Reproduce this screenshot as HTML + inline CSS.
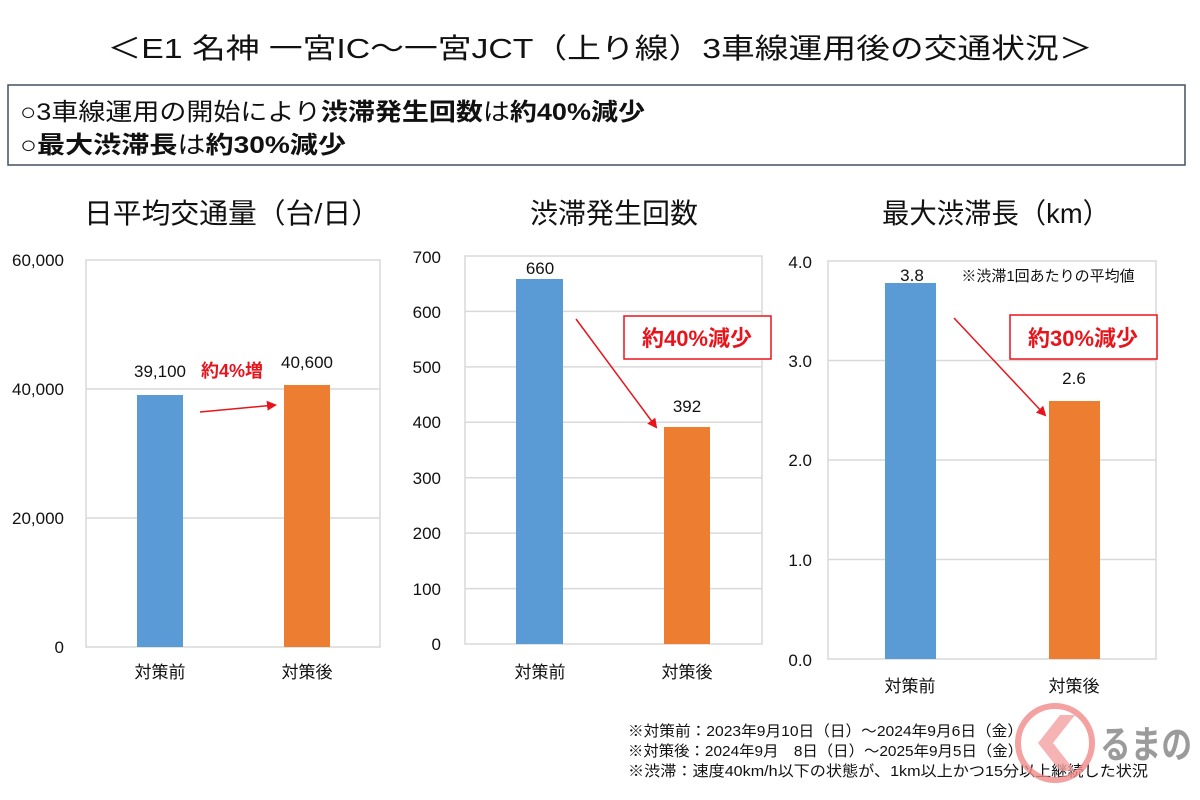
<!DOCTYPE html>
<html><head><meta charset="utf-8"><style>
body{margin:0;background:#fff;}
svg{display:block;font-family:"Liberation Sans","Noto Sans CJK JP",sans-serif;}
</style></head><body>
<svg width="1200" height="800" viewBox="0 0 1200 800">
<defs><marker id="ah" markerWidth="10" markerHeight="10" refX="8" refY="5" orient="auto" markerUnits="userSpaceOnUse"><path d="M0,0 L10,5 L0,10z" fill="#e8141c"/></marker></defs>
<text x="600" y="58" text-anchor="middle" font-size="28" fill="#111" textLength="985" lengthAdjust="spacingAndGlyphs">＜E1 名神 一宮IC～一宮JCT（上り線）3車線運用後の交通状況＞</text>
<rect x="8" y="85" width="1177" height="80" fill="#fff" stroke="#44505e" stroke-width="1.5"/>
<text x="20" y="120" font-size="24" fill="#111" textLength="625" lengthAdjust="spacingAndGlyphs">○3車線運用の開始により<tspan font-weight="bold">渋滞発生回数</tspan>は<tspan font-weight="bold">約40%減少</tspan></text>
<text x="20" y="153" font-size="24" fill="#111" textLength="326" lengthAdjust="spacingAndGlyphs">○<tspan font-weight="bold">最大渋滞長</tspan>は<tspan font-weight="bold">約30%減少</tspan></text>
<text x="232" y="223" text-anchor="middle" font-size="28" fill="#111" textLength="296" lengthAdjust="spacingAndGlyphs">日平均交通量（台/日）</text>
<text x="614" y="223" text-anchor="middle" font-size="28" fill="#111">渋滞発生回数</text>
<text x="996" y="223" text-anchor="middle" font-size="28" fill="#111" textLength="228" lengthAdjust="spacingAndGlyphs">最大渋滞長（km）</text>
<g stroke="#d9d9d9" stroke-width="1.5" fill="none">
<rect x="86" y="260" width="294" height="387"/>
<line x1="86" y1="389" x2="380" y2="389"/><line x1="86" y1="518" x2="380" y2="518"/>
<rect x="465" y="256" width="297" height="388"/>
<line x1="465" y1="311.4" x2="762" y2="311.4"/><line x1="465" y1="366.9" x2="762" y2="366.9"/><line x1="465" y1="422.3" x2="762" y2="422.3"/><line x1="465" y1="477.7" x2="762" y2="477.7"/><line x1="465" y1="533.1" x2="762" y2="533.1"/><line x1="465" y1="588.6" x2="762" y2="588.6"/>
<rect x="828" y="261" width="328" height="398"/>
<line x1="828" y1="360.5" x2="1156" y2="360.5"/><line x1="828" y1="460" x2="1156" y2="460"/><line x1="828" y1="559.5" x2="1156" y2="559.5"/>
</g>
<g font-size="17" fill="#111" text-anchor="end">
<text x="64" y="266">60,000</text><text x="64" y="395">40,000</text><text x="64" y="524">20,000</text><text x="64" y="653">0</text>
<text x="441" y="263">700</text><text x="441" y="318">600</text><text x="441" y="373">500</text><text x="441" y="428">400</text><text x="441" y="484">300</text><text x="441" y="539">200</text><text x="441" y="595">100</text><text x="441" y="650">0</text>
<text x="812" y="268">4.0</text><text x="812" y="367">3.0</text><text x="812" y="466">2.0</text><text x="812" y="566">1.0</text><text x="812" y="666">0.0</text>
</g>
<rect x="137" y="395" width="46" height="252" fill="#5b9bd5"/>
<rect x="284" y="385" width="46" height="262" fill="#ed7d31"/>
<rect x="516" y="279" width="47" height="365" fill="#5b9bd5"/>
<rect x="664" y="427" width="46" height="217" fill="#ed7d31"/>
<rect x="885" y="283" width="51" height="376" fill="#5b9bd5"/>
<rect x="1049" y="401" width="51" height="258" fill="#ed7d31"/>
<g font-size="17" fill="#111" text-anchor="middle">
<text x="160" y="377">39,100</text><text x="307" y="368">40,600</text>
<text x="540" y="274">660</text><text x="687" y="412">392</text>
<text x="912" y="281">3.8</text><text x="1074" y="384">2.6</text>
<text x="160" y="678">対策前</text><text x="307" y="678">対策後</text>
<text x="540" y="678">対策前</text><text x="687" y="678">対策後</text>
<text x="910" y="692">対策前</text><text x="1074" y="692">対策後</text>
</g>
<text x="1048" y="281" text-anchor="middle" font-size="15" fill="#111">※渋滞1回あたりの平均値</text>
<text x="232" y="377" text-anchor="middle" font-size="18" font-weight="bold" fill="#e8141c">約4%増</text>
<line x1="200" y1="412" x2="275" y2="405" stroke="#e8141c" stroke-width="1.5" marker-end="url(#ah)"/>
<line x1="576" y1="319" x2="656" y2="427" stroke="#e8141c" stroke-width="1.5" marker-end="url(#ah)"/>
<line x1="954" y1="318" x2="1045" y2="415" stroke="#e8141c" stroke-width="1.5" marker-end="url(#ah)"/>
<rect x="624" y="316" width="147" height="43" fill="#fff" stroke="#e8141c" stroke-width="1.5"/>
<text x="697" y="346" text-anchor="middle" font-size="22" font-weight="bold" fill="#e8141c">約40%減少</text>
<rect x="1010" y="315" width="147" height="44" fill="#fff" stroke="#e8141c" stroke-width="1.5"/>
<text x="1083" y="346" text-anchor="middle" font-size="22" font-weight="bold" fill="#e8141c">約30%減少</text>
<g font-size="15" fill="#111">
<text x="628" y="736" textLength="395" lengthAdjust="spacingAndGlyphs">※対策前：2023年9月10日（日）～2024年9月6日（金）</text>
<text x="628" y="756" textLength="395" lengthAdjust="spacingAndGlyphs">※対策後：2024年9月　8日（日）～2025年9月5日（金）</text>
<text x="628" y="776" textLength="520" lengthAdjust="spacingAndGlyphs">※渋滞：速度40km/h以下の状態が、1km以上かつ15分以上継続した状況</text>
</g>
<circle cx="1055" cy="743" r="37" fill="none" stroke="#f08a8a" stroke-width="6" opacity="0.8"/>
<path d="M1060,715 L1038,743 L1060,771 L1075,771 L1053,743 L1075,715z" fill="#f4a0a0" opacity="0.8"/>
<text x="1100" y="758" font-size="38" font-weight="bold" fill="#8a8a8a" opacity="0.85" textLength="92" lengthAdjust="spacingAndGlyphs">るまの</text>
</svg>
</body></html>
